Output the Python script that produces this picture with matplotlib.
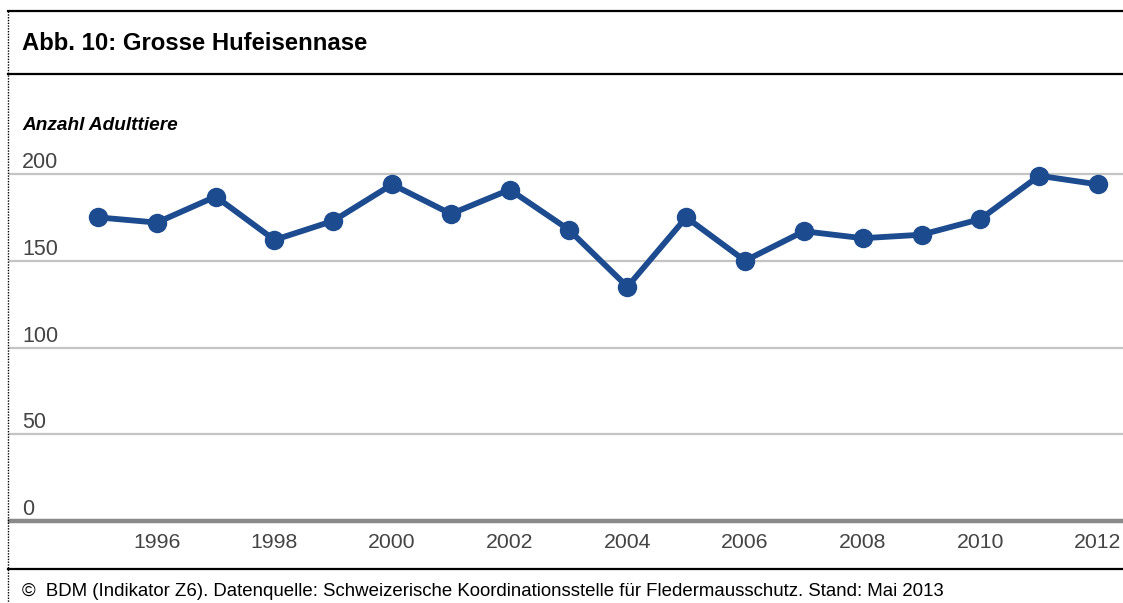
import matplotlib
matplotlib.use("Agg")
import matplotlib.pyplot as plt
from matplotlib.lines import Line2D

plt.rcParams['font.family'] = ['Liberation Sans', 'DejaVu Sans']

years = [1995, 1996, 1997, 1998, 1999, 2000, 2001, 2002, 2003, 2004,
         2005, 2006, 2007, 2008, 2009, 2010, 2011, 2012]
adults = [175, 172, 187, 162, 173, 194, 177, 191, 168, 135,
          175, 150, 167, 163, 165, 174, 199, 194]
x_ticks = [1996, 1998, 2000, 2002, 2004, 2006, 2008, 2010, 2012]
y_ticks = [0, 50, 100, 150, 200]

title = "Abb. 10: Grosse Hufeisennase"
y_label = "Anzahl Adulttiere"
footer = ("©  BDM (Indikator Z6). Datenquelle: Schweizerische Koordinationsstelle "
          "für Fledermausschutz. Stand: Mai 2013")

W, H = 1123, 603
fig = plt.figure(figsize=(W / 100, H / 100), dpi=100)


def fx(px):
    return px / W


def fy(py):
    return 1 - py / H


# plot area: value 0 at y=521 px, value 200 at y=174 px
left_px, right_px = 10, 1123
ax = fig.add_axes([fx(left_px), fy(521), fx(right_px - left_px), (521 - 174) / H])
ax.set_ylim(0, 200)
px_per_year = (1098 - 98) / 17
ax.set_xlim(1995 - (98 - left_px) / px_per_year, 2012 + (right_px - 1098) / px_per_year)

for s in ax.spines.values():
    s.set_visible(False)
ax.set_xticks([])
ax.set_yticks([])

for v in y_ticks:
    if v == 0:
        ax.axhline(v, color='#8a8a8a', lw=3.2, zorder=1, clip_on=False)
    else:
        ax.axhline(v, color='#c4c4c4', lw=1.6, zorder=1, clip_on=False)
    ax.annotate(str(v), xy=(0, v), xycoords=('axes fraction', 'data'),
                xytext=(12, 1), textcoords='offset pixels',
                ha='left', va='bottom', fontsize=15.5, color='#444444')

for t in x_ticks:
    ax.annotate(str(t), xy=(t, 0), xycoords=('data', 'data'),
                xytext=(0, -12), textcoords='offset pixels',
                ha='center', va='top', fontsize=15.3, color='#444444',
                annotation_clip=False)

ax.plot(years, adults, color='#1d4b8f', lw=4.2, marker='o', markersize=14,
        markeredgewidth=0, solid_joinstyle='round', zorder=3, clip_on=False)

# frame lines
fig.add_artist(Line2D([fx(8), 1], [fy(11), fy(11)], color='black', lw=1.6))
fig.add_artist(Line2D([fx(8), 1], [fy(74), fy(74)], color='black', lw=1.6))
fig.add_artist(Line2D([fx(8), 1], [fy(569), fy(569)], color='black', lw=1.6))
fig.add_artist(Line2D([fx(8), fx(8)], [fy(11), 0], color='black', lw=1.0,
                      linestyle=(0, (1, 1))))

fig.text(fx(22), fy(44), title, fontsize=17.2, fontweight='bold', ha='left', va='center')
fig.text(fx(22), fy(126), y_label, fontsize=13.7, fontweight='bold', fontstyle='italic',
         ha='left', va='center')
fig.text(fx(22), fy(591), footer, fontsize=13.4, ha='left', va='center')

fig.savefig("out.png", dpi=100)
